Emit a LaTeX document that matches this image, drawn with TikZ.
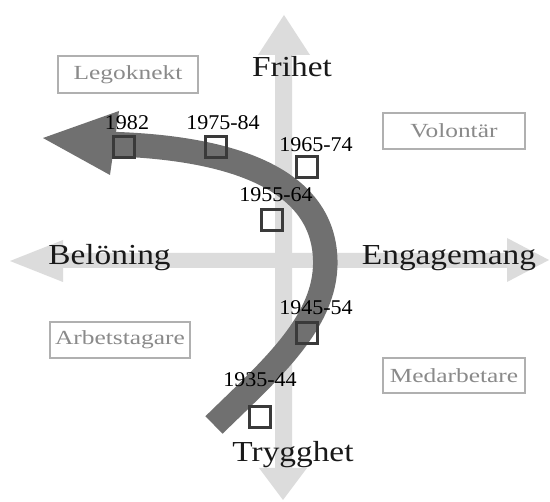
\documentclass[tikz,border=0pt]{standalone}
\usepackage{fontspec}
\setmainfont{Liberation Serif}
\usepackage{graphicx}
\definecolor{axisgray}{HTML}{DCDCDC}
\definecolor{arrowgray}{HTML}{707070}
\definecolor{sqgray}{HTML}{3A3A3A}
\definecolor{boxline}{HTML}{B0B0B0}
\definecolor{boxtext}{HTML}{8A8A8A}
\newcommand\hstretch[2]{\scalebox{#1}[1]{#2}}
\begin{document}
\begin{tikzpicture}[x=1pt,y=-1pt,
  axisshape/.style={fill=axisgray},
  axislabel/.style={font=\fontsize{29}{29}\selectfont, text=black!90, inner sep=0pt, anchor=base},
  yearlabel/.style={font=\fontsize{21}{21}\selectfont, text=black, inner sep=0pt, anchor=base},
  yearbox/.style={draw=sqgray, line width=3.4pt, minimum size=21pt, inner sep=0pt},
  quadbox/.style={draw=boxline, line width=1.2pt, text=boxtext, inner sep=0pt,
    font=\fontsize{20}{20}\selectfont},
  bigarrow/.style={arrowgray, line width=24.5pt}
]
\useasboundingbox (0,0) rectangle (550,502);
\fill[white] (0,0) rectangle (550,502);

% light axes
\fill[axisshape] (284,15) -- (310,55) -- (292,55) -- (292,468) -- (307,468) -- (283,500)
  -- (259,468) -- (275,468) -- (275,55) -- (258,55) -- cycle;
\fill[axisshape] (10,261) -- (63,240) -- (63,253) -- (507,253) -- (507,238) -- (549,260)
  -- (507,282) -- (507,268) -- (63,268) -- (63,282) -- cycle;

% axis labels
\node[axislabel] (frihet) at (292,77) {\hstretch{1.15}{Frihet}};
\node[axislabel] (beloning) at (109.5,265) {\hstretch{1.15}{Belöning}};
\node[axislabel] (engagemang) at (449,265) {\hstretch{1.15}{Engagemang}};
\node[axislabel] (trygghet) at (293,462) {\hstretch{1.15}{Trygghet}};

% quadrant boxes
\node[quadbox, minimum width=140pt, minimum height=37pt] (lego) at (128,74.5) {\hstretch{1.27}{Legoknekt}};
\node[quadbox, minimum width=142pt, minimum height=36pt] (volontar) at (454,131) {\hstretch{1.27}{Volontär}};
\node[quadbox, minimum width=140pt, minimum height=36pt] (arbets) at (120,340) {\hstretch{1.27}{Arbetstagare}};
\node[quadbox, minimum width=142pt, minimum height=35pt] (medarb) at (454,375.5) {\hstretch{1.27}{Medarbetare}};

% big curved arrow
\draw[bigarrow] (214,425) .. controls (270,370) and (330,320) .. (325,255)
  .. controls (320,185) and (245,148) .. (111,144);
\fill[arrowgray] (43,138) -- (119,111) -- (110,175) -- cycle;

% period squares
\node[yearbox] (s1982) at (124,147) {};
\node[yearbox] (s1975) at (216,147) {};
\node[yearbox] (s1965) at (307,167) {};
\node[yearbox] (s1955) at (272,220) {};
\node[yearbox] (s1945) at (307,333) {};
\node[yearbox] (s1935) at (260,417) {};

% period labels
\node[yearlabel] (t1982) at (127,130) {\hstretch{1.05}{1982}};
\node[yearlabel] (t1975) at (223,130) {\hstretch{1.05}{1975-84}};
\node[yearlabel] (t1965) at (316,152) {\hstretch{1.05}{1965-74}};
\node[yearlabel] (t1955) at (276,202) {\hstretch{1.05}{1955-64}};
\node[yearlabel] (t1945) at (316,315) {\hstretch{1.05}{1945-54}};
\node[yearlabel] (t1935) at (260,387) {\hstretch{1.05}{1935-44}};
\end{tikzpicture}
\end{document}
